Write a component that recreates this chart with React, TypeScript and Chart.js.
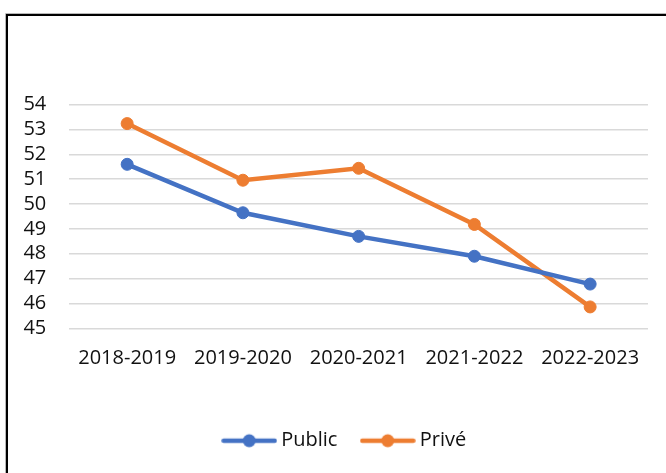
import React, { useEffect, useRef } from "react";
import { Chart, registerables } from "chart.js";

Chart.register(...registerables);

const categories = ["2018-2019", "2019-2020", "2020-2021", "2021-2022", "2022-2023"];
const publicValues = [51.6, 49.65, 48.7, 47.9, 46.78];
const priveValues = [53.24, 50.96, 51.44, 49.18, 45.86];
const seriesLabels = ["Public", "Privé"];
const yMin = 45;
const yMax = 54;

const BLUE = "#4472C4";
const ORANGE = "#ED7D31";
const FONT = "'Open Sans', 'Noto Sans', sans-serif";

function legendIcon(color: string): HTMLCanvasElement {
  const c = document.createElement("canvas");
  c.width = 56;
  c.height = 16;
  const ctx = c.getContext("2d")!;
  ctx.strokeStyle = color;
  ctx.lineWidth = 4.5;
  ctx.lineCap = "round";
  ctx.beginPath();
  ctx.moveTo(2.5, 8);
  ctx.lineTo(53.5, 8);
  ctx.stroke();
  ctx.fillStyle = color;
  ctx.beginPath();
  ctx.arc(28, 8, 6.5, 0, Math.PI * 2);
  ctx.fill();
  return c;
}

const legendShift = {
  id: "legendShift",
  afterLayout(chart: any) {
    if (chart.legend) chart.legend.left = 45.4;
  },
};

export default function App() {
  const ref = useRef<HTMLCanvasElement | null>(null);

  useEffect(() => {
    if (!ref.current) return;
    const icons = [legendIcon(BLUE), legendIcon(ORANGE)];
    const colors = [BLUE, ORANGE];
    const values = [publicValues, priveValues];
    const chart = new Chart(ref.current, {
      type: "line",
      data: {
        labels: categories,
        datasets: seriesLabels.map((label, i) => ({
          label,
          data: values[i],
          borderColor: colors[i],
          backgroundColor: colors[i],
          borderWidth: 4.5,
          pointRadius: 6,
          pointBorderWidth: 1,
          pointBackgroundColor: colors[i],
          pointBorderColor: colors[i],
          pointStyle: "circle",
          tension: 0,
        })),
      },
      plugins: [legendShift],
      options: {
        animation: false,
        responsive: false,
        maintainAspectRatio: false,
        devicePixelRatio: 1,
        layout: { padding: { left: 23.3, right: 18, top: 104.7, bottom: 12.3 } },
        plugins: {
          tooltip: { enabled: false },
          title: { display: false },
          legend: {
            display: true,
            position: "bottom",
            labels: {
              usePointStyle: true,
              pointStyleWidth: 44,
              padding: 28.3,
              color: "#111",
              font: { family: FONT, size: 20 },
              generateLabels: (ch: any) =>
                ch.data.datasets.map((ds: any, i: number) => ({
                  text: ds.label,
                  pointStyle: icons[i],
                  fillStyle: ds.borderColor,
                  strokeStyle: ds.borderColor,
                  lineWidth: 0,
                  fontColor: "#111",
                  hidden: false,
                  datasetIndex: i,
                })),
            },
          },
        },
        scales: {
          x: {
            type: "category",
            offset: true,
            grid: { display: false, drawTicks: false },
            border: { display: false },
            ticks: { padding: 18, color: "#111", font: { family: FONT, size: 20 }, maxRotation: 0, autoSkip: false },
            afterFit: (s: any) => {
              s.height = 74.1;
            },
          },
          y: {
            min: yMin,
            max: yMax,
            grid: { color: "#d9d9d9", lineWidth: 1.5, drawTicks: false },
            border: { display: false },
            ticks: {
              stepSize: 1,
              autoSkip: false,
              padding: 23,
              color: "#111",
              font: { family: FONT, size: 20, lineHeight: 1 },
            },
            afterFit: (s: any) => {
              s.width = 46;
            },
          },
        },
      },
    });
    return () => chart.destroy();
  }, []);

  return (
    <div style={{ position: "fixed", left: 0, top: 0, width: 666, height: 473, overflow: "hidden", background: "#fff" }}>
      <div
        style={{
          position: "absolute",
          left: 6,
          top: 14,
          width: 700,
          height: 500,
          border: "2px solid #000",
          boxShadow: "0 0 0 0.7px #9a9a9a",
        }}
      />
      <canvas ref={ref} width={666} height={473} style={{ position: "absolute", left: 0, top: 0, width: 666, height: 473 }} />
    </div>
  );
}
